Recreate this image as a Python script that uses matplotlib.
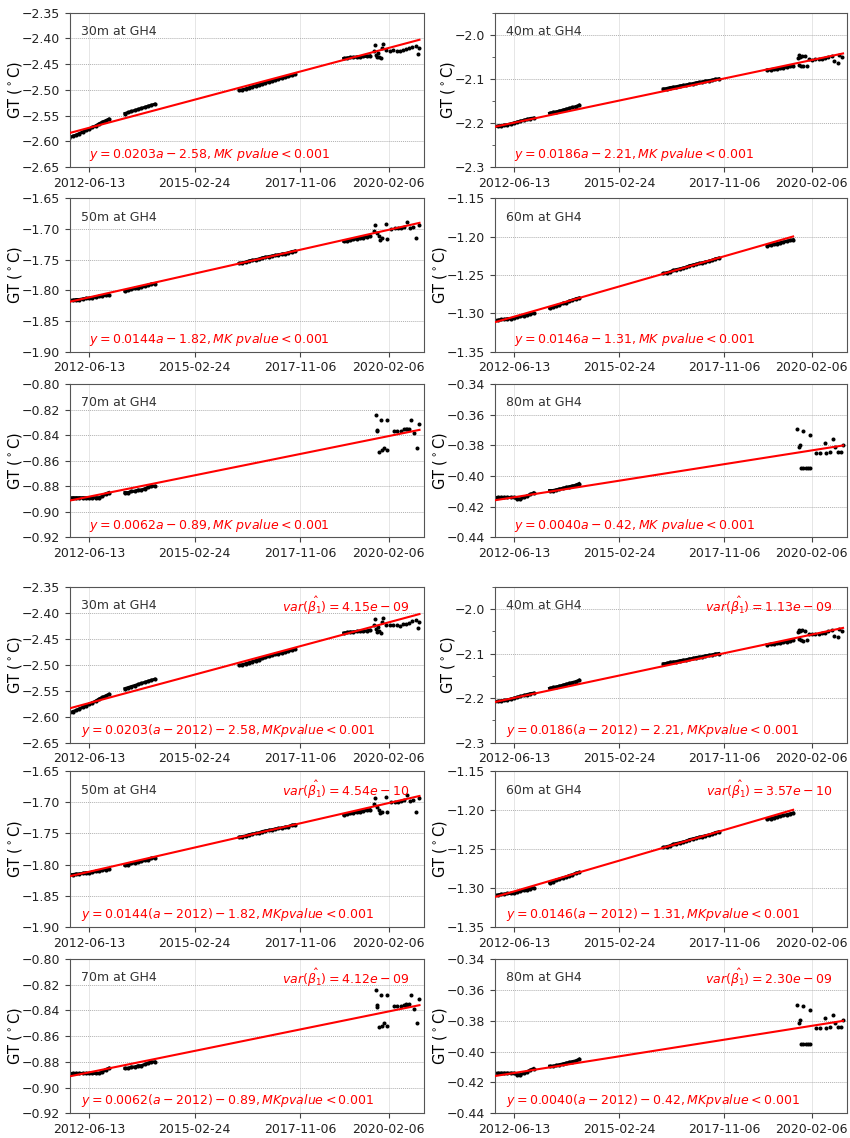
import numpy as np
import pandas as pd
import matplotlib
matplotlib.use("Agg")
import matplotlib.pyplot as plt
import matplotlib.dates as mdates
from matplotlib.ticker import MultipleLocator

# ---------------- data ----------------
depths = ["30m", "40m", "50m", "60m", "70m", "80m"]

# monthly sampled logger segments (first month of each segment)
seg_start = ["2011-12-01", "2013-05-01", "2016-04-01", "2018-12-01"]

gt30_a = [-2.593, -2.590, -2.588, -2.585, -2.582, -2.579, -2.576, -2.573, -2.570, -2.566, -2.563, -2.560, -2.557]
gt30_b = [-2.546, -2.544, -2.542, -2.540, -2.538, -2.536, -2.534, -2.532, -2.530, -2.528]
gt30_c = [-2.501, -2.500, -2.498, -2.496, -2.494, -2.492, -2.490, -2.488, -2.486, -2.484, -2.482, -2.480,
          -2.479, -2.477, -2.475, -2.474, -2.472, -2.470]
gt30_d = [-2.439, -2.438, -2.437, -2.437, -2.436, -2.436, -2.435, -2.435, -2.434]
late30_dates = ["2019-09-20", "2019-10-01", "2019-10-10", "2019-10-20", "2019-11-01", "2019-11-10", "2019-11-25",
                "2019-12-05", "2019-12-15", "2020-01-15", "2020-02-15", "2020-03-15", "2020-04-20", "2020-05-20",
                "2020-06-20", "2020-07-20", "2020-08-15", "2020-09-15", "2020-10-15", "2020-11-10", "2020-11-20"]
late30_vals = [-2.424, -2.413, -2.432, -2.437, -2.428, -2.436, -2.439, -2.418, -2.411, -2.423, -2.424, -2.423,
               -2.424, -2.425, -2.422, -2.421, -2.419, -2.416, -2.414, -2.430, -2.418]

gt40_a = [-2.208, -2.207, -2.206, -2.205, -2.204, -2.202, -2.200, -2.198, -2.196, -2.194, -2.192, -2.190, -2.189]
gt40_b = [-2.178, -2.176, -2.175, -2.173, -2.171, -2.169, -2.167, -2.165, -2.163, -2.160]
gt40_c = [-2.123, -2.122, -2.120, -2.119, -2.118, -2.116, -2.115, -2.114, -2.112, -2.111, -2.109, -2.108,
          -2.107, -2.105, -2.104, -2.103, -2.101, -2.100]
gt40_d = [-2.080, -2.079, -2.078, -2.077, -2.076, -2.075, -2.073, -2.072, -2.070]
late40_dates = ["2019-09-25", "2019-10-05", "2019-10-10", "2019-10-20", "2019-10-28", "2019-11-10", "2019-11-20",
                "2019-12-05", "2019-12-20", "2020-01-10", "2020-02-10", "2020-03-10", "2020-04-10", "2020-05-10",
                "2020-06-10", "2020-07-10", "2020-08-10", "2020-09-05", "2020-10-05", "2020-10-20", "2020-11-15"]
late40_vals = [-2.052, -2.047, -2.068, -2.050, -2.070, -2.048, -2.071, -2.049, -2.070, -2.056, -2.057, -2.055,
               -2.056, -2.054, -2.053, -2.050, -2.048, -2.060, -2.063, -2.045, -2.050]

gt50_a = [-1.816, -1.816, -1.815, -1.815, -1.814, -1.813, -1.813, -1.812, -1.811, -1.810, -1.809, -1.808, -1.807]
gt50_b = [-1.801, -1.800, -1.798, -1.797, -1.796, -1.795, -1.793, -1.792, -1.790, -1.789]
gt50_c = [-1.756, -1.755, -1.754, -1.752, -1.751, -1.750, -1.749, -1.747, -1.746, -1.745, -1.744, -1.743,
          -1.742, -1.741, -1.740, -1.739, -1.737, -1.736]
gt50_d = [-1.720, -1.719, -1.718, -1.717, -1.716, -1.715, -1.714, -1.713, -1.712]
late50_dates = ["2019-09-25", "2019-10-05", "2019-10-20", "2019-11-05", "2019-11-20", "2019-12-10", "2020-01-10",
                "2020-01-20", "2020-03-01", "2020-04-01", "2020-05-01", "2020-06-01", "2020-07-01", "2020-07-25",
                "2020-08-20", "2020-09-20", "2020-10-20", "2020-11-15"]
late50_vals = [-1.703, -1.693, -1.707, -1.712, -1.718, -1.715, -1.692, -1.716, -1.700, -1.699, -1.699, -1.698,
               -1.697, -1.688, -1.698, -1.696, -1.715, -1.693]

gt60_a = [-1.309, -1.309, -1.308, -1.308, -1.307, -1.307, -1.306, -1.305, -1.304, -1.303, -1.302, -1.301, -1.300]
gt60_b = [-1.293, -1.292, -1.290, -1.289, -1.287, -1.286, -1.284, -1.283, -1.281, -1.280]
gt60_c = [-1.248, -1.247, -1.246, -1.244, -1.243, -1.242, -1.241, -1.240, -1.238, -1.237, -1.236, -1.235,
          -1.234, -1.233, -1.232, -1.231, -1.229, -1.228]
gt60_d = [-1.212, -1.211, -1.210, -1.209, -1.208, -1.207, -1.206, -1.205, -1.204]
late60_dates = []
late60_vals = []

gt70_a = [-0.889, -0.889, -0.889, -0.889, -0.889, -0.889, -0.889, -0.889, -0.889, -0.889, -0.888, -0.886, -0.885]
gt70_b = [-0.885, -0.885, -0.884, -0.884, -0.883, -0.883, -0.882, -0.881, -0.880, -0.880]
gt70_c = []
gt70_d = []
late70_dates = ["2019-10-08", "2019-10-17", "2019-10-24", "2019-11-08", "2019-11-24", "2019-12-09", "2019-12-25",
                "2020-01-25", "2020-01-25", "2020-03-28", "2020-04-28", "2020-05-29", "2020-06-29", "2020-07-15",
                "2020-07-30", "2020-08-15", "2020-08-30", "2020-10-01", "2020-11-01", "2020-11-16"]
late70_vals = [-0.824, -0.837, -0.836, -0.853, -0.828, -0.852, -0.850, -0.852, -0.828, -0.8365, -0.8365, -0.8365,
               -0.8355, -0.835, -0.8355, -0.835, -0.828, -0.8385, -0.850, -0.831]

gt80_a = [-0.414, -0.414, -0.414, -0.414, -0.414, -0.414, -0.414, -0.415, -0.415, -0.414, -0.413, -0.412, -0.411]
gt80_b = [-0.4095, -0.4095, -0.409, -0.4085, -0.408, -0.4075, -0.407, -0.4065, -0.406, -0.405]
gt80_c = []
gt80_d = []
late80_dates = ["2019-09-23", "2019-10-11", "2019-10-17", "2019-11-17", "2019-11-01", "2019-11-20", "2019-12-10",
                "2019-12-30", "2020-01-19", "2020-01-19", "2020-03-21", "2020-04-21", "2020-06-07", "2020-06-22",
                "2020-07-24", "2020-08-24", "2020-09-09", "2020-10-10", "2020-11-10", "2020-11-25"]
late80_vals = [-0.3696, -0.3813, -0.3798, -0.3704, -0.395, -0.395, -0.395, -0.395, -0.395, -0.3733, -0.3848,
               -0.3848, -0.3783, -0.3848, -0.3841, -0.3761, -0.3813, -0.3841, -0.3841, -0.3798]

# trend lines (slope per year, value at 2012.0, last date)
fit_slope = [0.0203, 0.0186, 0.0144, 0.0146, 0.0062, 0.0040]
fit_icpt = [-2.583, -2.208, -1.818, -1.311, -0.891, -0.4157]
fit_end = ["2020-11-20", "2020-11-25", "2020-11-20", "2019-08-15", "2020-11-20", "2020-11-25"]

eq_simple = [r"$y=0.0203a-2.58, MK\ pvalue<0.001$", r"$y=0.0186a-2.21, MK\ pvalue<0.001$",
             r"$y=0.0144a-1.82, MK\ pvalue<0.001$", r"$y=0.0146a-1.31, MK\ pvalue<0.001$",
             r"$y=0.0062a-0.89, MK\ pvalue<0.001$", r"$y=0.0040a-0.42, MK\ pvalue<0.001$"]
eq_shift = [r"$y=0.0203(a-2012)-2.58, MKpvalue<0.001$", r"$y=0.0186(a-2012)-2.21, MKpvalue<0.001$",
            r"$y=0.0144(a-2012)-1.82, MKpvalue<0.001$", r"$y=0.0146(a-2012)-1.31, MKpvalue<0.001$",
            r"$y=0.0062(a-2012)-0.89, MKpvalue<0.001$", r"$y=0.0040(a-2012)-0.42, MKpvalue<0.001$"]
var_beta = ["4.15e-09", "1.13e-09", "4.54e-10", "3.57e-10", "4.12e-09", "2.30e-09"]

ylims = [(-2.65, -2.35), (-2.3, -1.95), (-1.90, -1.65), (-1.35, -1.15), (-0.92, -0.80), (-0.44, -0.34)]
ysteps = [0.05, 0.1, 0.05, 0.05, 0.02, 0.02]

xtick_dates = ["2012-06-13", "2015-02-24", "2017-11-06", "2020-02-06"]
xlim = ("2011-12-20", "2021-01-01")

segs = [[gt30_a, gt30_b, gt30_c, gt30_d], [gt40_a, gt40_b, gt40_c, gt40_d], [gt50_a, gt50_b, gt50_c, gt50_d],
        [gt60_a, gt60_b, gt60_c, gt60_d], [gt70_a, gt70_b, gt70_c, gt70_d], [gt80_a, gt80_b, gt80_c, gt80_d]]
late = [(late30_dates, late30_vals), (late40_dates, late40_vals), (late50_dates, late50_vals),
        (late60_dates, late60_vals), (late70_dates, late70_vals), (late80_dates, late80_vals)]

# ---------------- layout (pixels of an 850x1138 canvas) ----------------
W, H = 850, 1138
col_x = [70, 495]
col_w = [354, 352]
row_top = [12.7, 198.3, 384, 586.7, 771, 959]
row_h = [154.3, 153.4, 153.3, 156, 156, 154.3]

plt.rcParams.update({"font.size": 9, "text.color": "#222222", "axes.edgecolor": "#555555",
                     "xtick.color": "#444444", "ytick.color": "#444444",
                     "xtick.labelcolor": "#222222", "ytick.labelcolor": "#222222"})

fig = plt.figure(figsize=(W / 100, H / 100), dpi=100)


def year_frac(d):
    return d.year + (d.dayofyear - 1) / 365.25


for g in range(2):
    for k in range(6):
        row = g * 3 + k // 2
        col = k % 2
        ax = fig.add_axes([col_x[col] / W, 1 - (row_top[row] + row_h[row]) / H,
                           col_w[col] / W, row_h[row] / H])

        # dense logger records: consecutive monthly samples merge into a band
        for start, vals in zip(seg_start, segs[k]):
            if len(vals) == 0:
                continue
            d = pd.date_range(start, periods=len(vals), freq="MS") + pd.Timedelta(days=14)
            ax.plot(d, vals, "-o", color="black", lw=2.2, ms=3.0, mew=0, zorder=2)
        if len(late[k][0]) > 0:
            ax.plot(pd.to_datetime(late[k][0]), late[k][1], "o", color="black", ms=2.9, mew=0, zorder=2)

        line_d = pd.to_datetime(["2011-12-01", fit_end[k]])
        line_y = [fit_icpt[k] + fit_slope[k] * (year_frac(t) - 2012) for t in line_d]
        ax.plot(line_d, line_y, color="red", lw=1.5, zorder=3)

        ax.set_xlim(pd.to_datetime(xlim[0]), pd.to_datetime(xlim[1]))
        ax.set_ylim(*ylims[k])
        ax.yaxis.set_major_locator(MultipleLocator(ysteps[k]))
        if ysteps[k] == 0.1:
            ax.yaxis.set_minor_locator(MultipleLocator(0.05))
        ax.set_xticks(pd.to_datetime(xtick_dates))
        ax.xaxis.set_major_formatter(mdates.DateFormatter("%Y-%m-%d"))
        ax.tick_params(labelsize=9)

        ax.grid(axis="x", color="#e2e2e2", lw=0.6)
        ax.grid(axis="y", color="#b0b0b0", lw=0.7, ls=(0, (1, 1)))
        ax.set_axisbelow(True)

        ax.set_ylabel(r"GT ($^\circ$C)", fontsize=10.5, labelpad=-1.5)

        ax.text(0.03, 0.877, depths[k] + " at GH4", transform=ax.transAxes,
                fontsize=9, color="#333333", va="center")
        if g == 0:
            ax.text(0.053, 0.078, eq_simple[k], transform=ax.transAxes,
                    fontsize=9, color="red", va="center")
        else:
            ax.text(0.032, 0.08, eq_shift[k], transform=ax.transAxes,
                    fontsize=9, color="red", va="center")
            ax.text(0.958, 0.876, r"$var(\hat{\beta_1})=" + var_beta[k] + "$",
                    transform=ax.transAxes, fontsize=9, color="red", va="center", ha="right")

fig.savefig("out.png", dpi=100)
